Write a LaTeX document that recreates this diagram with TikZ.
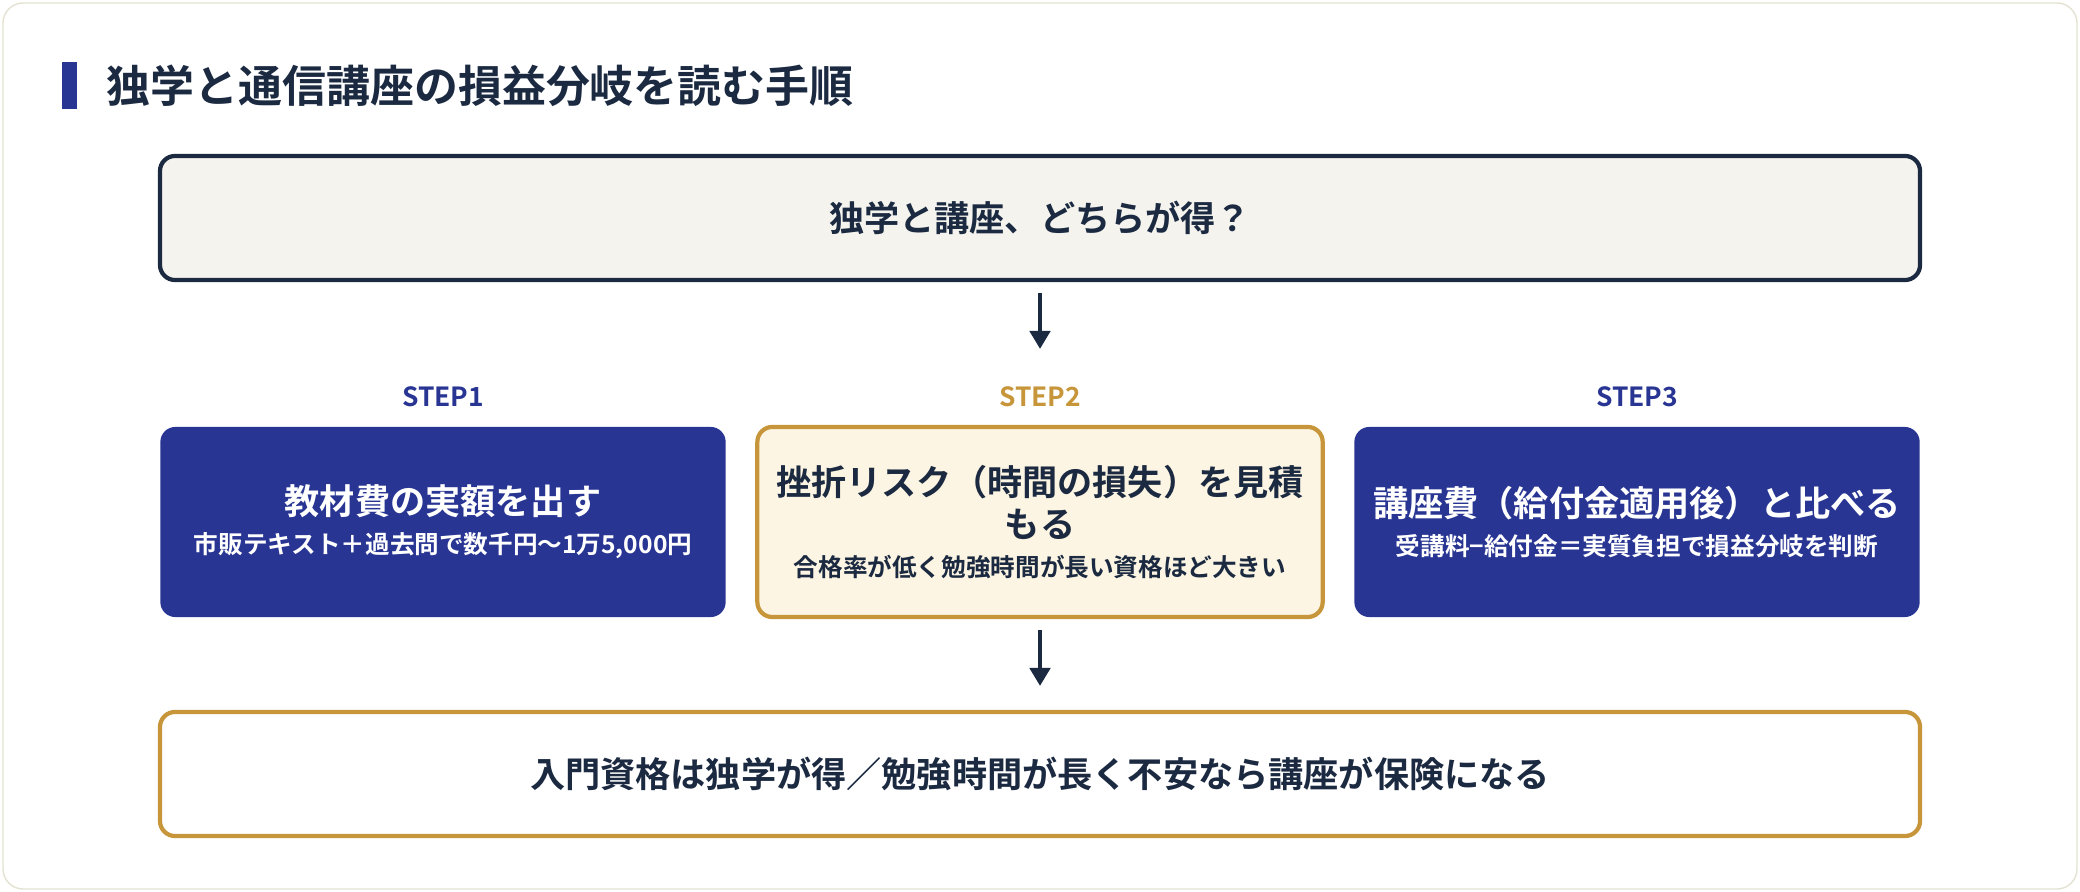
\documentclass[tikz,border=0pt]{standalone}
\usepackage{fontspec}
\setmainfont{Noto Sans CJK JP}[BoldFont={Noto Sans CJK JP Bold}]
\usetikzlibrary{positioning,arrows.meta}
\definecolor{navy}{HTML}{283593}
\definecolor{ink}{HTML}{1B2A41}
\definecolor{gold}{HTML}{C8963A}
\definecolor{cream}{HTML}{FDF5E3}
\definecolor{paper}{HTML}{F4F3EE}
\definecolor{frame}{HTML}{E4E2D2}
\tikzset{
  box/.style={draw, rounded corners=0.15cm, line width=1.2pt, minimum height=1.24cm, align=center, font=\bfseries\fontsize{10}{12}\selectfont},
  stepbox/.style={rounded corners=0.15cm, minimum width=5.65cm, minimum height=1.9cm, align=center, text width=5.4cm},
  lbl/.style={font=\bfseries\fontsize{7.5}{9}\selectfont},
  arr/.style={-{Triangle[length=0.18cm,width=0.2cm]}, line width=1.3pt, ink},
}
\begin{document}
\begin{tikzpicture}[x=0.01cm,y=-0.01cm]
  \useasboundingbox (0,0) rectangle (2080,892);
  \draw[frame, fill=white, rounded corners=0.2cm] (3,3) rectangle (2077,889);
  % title
  \fill[navy] (62,62) rectangle (77,109);
  \node[anchor=west, ink, font=\bfseries\fontsize{12.5}{15}\selectfont] (title) at (94,86) {独学と通信講座の損益分岐を読む手順};
  % question
  \node[box, ink, fill=paper, minimum width=17.59cm, text=ink] (q) at (1040,218) {独学と講座、どちらが得？};
  % steps
  \node[stepbox, fill=navy, text=white] (s1) at (443,522) {{\bfseries\fontsize{10}{12}\selectfont 教材費の実額を出す}\\[-1pt]{\bfseries\fontsize{7}{9}\selectfont 市販テキスト＋過去問で数千円〜1万5,000円}};
  \node[stepbox, draw=gold, line width=1.2pt, fill=cream, text=ink] (s2) at (1040,522) {{\bfseries\fontsize{10}{12}\selectfont 挫折リスク（時間の損失）を見積\\もる}\\[-1pt]{\bfseries\fontsize{7}{9}\selectfont 合格率が低く勉強時間が長い資格ほど大きい}};
  \node[stepbox, fill=navy, text=white] (s3) at (1637,522) {{\bfseries\fontsize{10}{12}\selectfont 講座費（給付金適用後）と比べる}\\[-1pt]{\bfseries\fontsize{7}{9}\selectfont 受講料−給付金＝実質負担で損益分岐を判断}};
  \node[lbl, navy] (l1) at (443,397) {STEP1};
  \node[lbl, gold] (l2) at (1040,397) {STEP2};
  \node[lbl, navy] (l3) at (1637,397) {STEP3};
  % result
  \node[box, draw=gold, fill=white, minimum width=17.59cm, text=ink] (r) at (1040,774) {入門資格は独学が得／勉強時間が長く不安なら講座が保険になる};
  \coordinate (a1) at (1040,293);
  \coordinate (a2) at (1040,349);
  \coordinate (b1) at (1040,630);
  \coordinate (b2) at (1040,686);
  \draw[arr] (a1) -- (a2);
  \draw[arr] (b1) -- (b2);
\end{tikzpicture}
\end{document}
